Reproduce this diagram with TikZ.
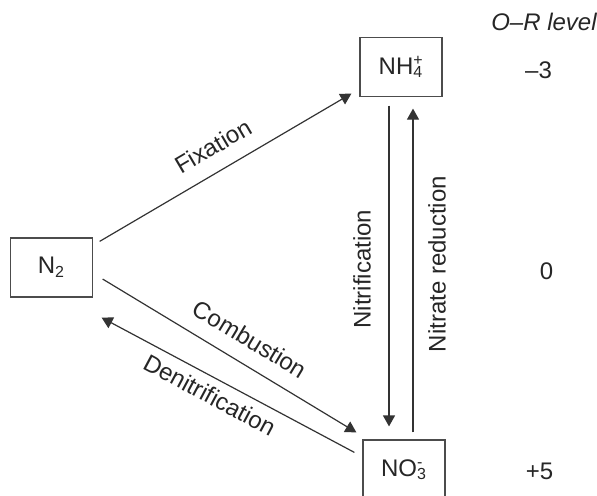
\documentclass[tikz,border=0pt]{standalone}
\usepackage{fontspec}
\setmainfont{Liberation Sans}
\usepackage{tikz}
\usetikzlibrary{arrows.meta,positioning,calc}

\tikzset{
  species/.style={draw=black!70, line width=0.6pt, minimum width=41pt,
    minimum height=29.5pt, inner sep=0pt, text=black!85},
  flow/.style={draw=black!80, line width=0.6pt, -{Triangle[length=5.5pt,width=6pt]}},
  backflow/.style={draw=black!80, line width=0.6pt, {Triangle[length=5.5pt,width=6pt]}-},
  lvl/.style={text=black!85},
  proc/.style={text=black!85},
}

\begin{document}
\begin{tikzpicture}[x=0.5pt, y=-0.5pt, font=\fontsize{12}{14}\selectfont]
  \useasboundingbox (0,0) rectangle (597,495);
  % compounds
  \node[species] (n2) at (51.5,267.5) {N\textsubscript{2}};
  \node[species] (nh4) at (401,67) {NH\rlap{\textsuperscript{+}}\textsubscript{4}};
  \node[species] (no3) at (404,469.5) {NO\rlap{\textsuperscript{-}}\textsubscript{3}};
  % oxidation-reduction levels
  \node[lvl] (orhead) at (544,22) {\itshape O--R level};
  \node[lvl] (lvlnh4) at (538.5,70) {--3};
  \node[lvl] (lvln2) at (546.5,271) {0};
  \node[lvl] (lvlno3) at (539.5,471) {+5};
  % processes
  \draw[flow] ($(n2.north east)+(6.5,4)$) --
    node[proc, sloped, pos=0.5, above, inner sep=7.6pt] {Fixation}
    ($(nh4.south west)+(-8,-3.5)$);
  \draw[flow] ($(n2.east)+(9.5,11.5)$) --
    node[proc, sloped, pos=0.53, above, inner sep=7.8pt] {Combustion}
    ($(no3.north west)+(-6,-7)$);
  \draw[backflow] ($(n2.south east)+(8.5,20)$) --
    node[proc, sloped, pos=0.46, below, inner sep=4pt] {Denitrification}
    ($(no3.north west)+(-8,13)$);
  \draw[flow] ($(nh4.south)+(-12,8.5)$) --
    node[proc, pos=0.51, rotate=90, anchor=south, inner sep=8.8pt] {Nitrification}
    ($(no3.north)+(-15,-13)$);
  \draw[flow] ($(no3.north)+(9,-7)$) --
    node[proc, pos=0.52, rotate=90, anchor=north, inner sep=7.3pt] {Nitrate reduction}
    ($(nh4.south)+(12,11.5)$);
\end{tikzpicture}
\end{document}
